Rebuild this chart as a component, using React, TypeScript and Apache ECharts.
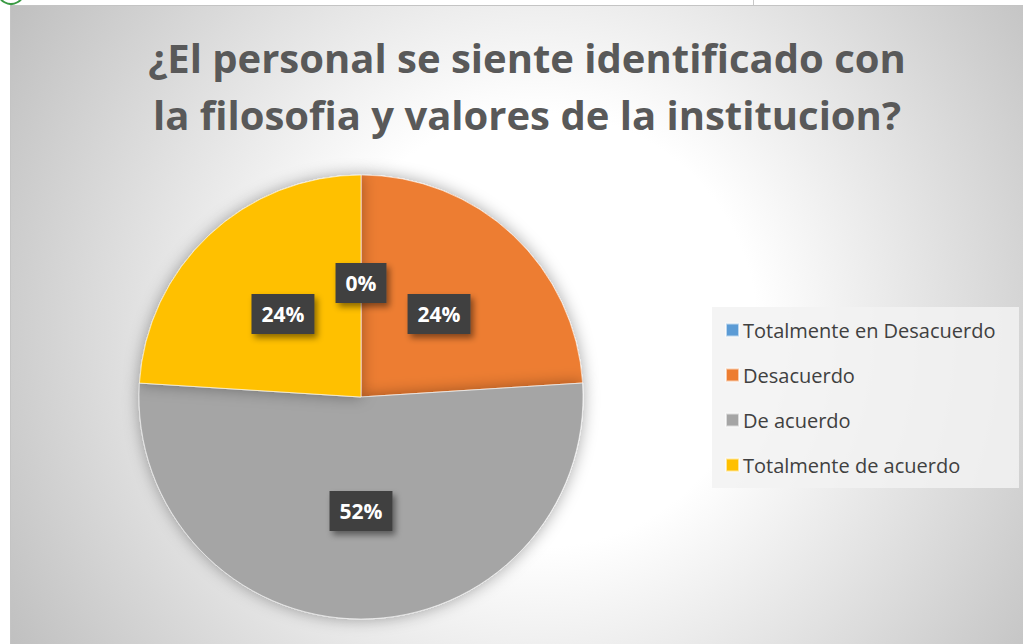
import React, { useEffect, useRef } from "react";
import * as echarts from "echarts";

const titleLines = [
  "¿El personal se siente identificado con",
  "la filosofia y valores de la institucion?",
];
const categories = [
  "Totalmente en Desacuerdo",
  "Desacuerdo",
  "De acuerdo",
  "Totalmente de acuerdo",
];
const percentValues = [0, 24, 52, 24];
const sliceColors = ["#5b9bd5", "#ed7d31", "#a5a5a5", "#ffc000"];

export default function App() {
  const ref = useRef<HTMLDivElement>(null);
  useEffect(() => {
    if (!ref.current) return;
    const chart = echarts.init(ref.current, null, { renderer: "svg" });
    const bg = new echarts.graphic.RadialGradient(
      540,
      330,
      620,
      [
        { offset: 0, color: "#ffffff" },
        { offset: 0.35, color: "#ffffff" },
        { offset: 1, color: "#bfbfbf" },
      ],
      true
    );
    chart.setOption({
      animation: false,
      backgroundColor: "#ffffff",
      graphic: [
        {
          type: "rect",
          z: -10,
          shape: { x: 10.5, y: 5.5, width: 1020, height: 645 },
          style: { fill: bg, stroke: "#c4c4c4", lineWidth: 1 },
        },
        {
          type: "circle",
          z: -5,
          shape: { cx: 11, cy: -9, r: 13 },
          style: { fill: "#ffffff", stroke: "#3a9a44", lineWidth: 2 },
        },
        {
          type: "line",
          z: -5,
          shape: { x1: 753.5, y1: 0, x2: 753.5, y2: 5 },
          style: { stroke: "#c8c8c8", lineWidth: 1 },
        },
        {
          type: "rect",
          z: -4,
          shape: { x: 712, y: 307, width: 307, height: 181 },
          style: { fill: "rgba(242,242,242,0.85)" },
        },
      ],
      title: {
        text: titleLines.join("\n"),
        left: 522,
        top: 24,
        textAlign: "center",
        textStyle: {
          fontFamily: "Open Sans",
          fontWeight: "bold",
          fontSize: 40,
          lineHeight: 57,
          color: "#595959",
        },
      },
      legend: {
        orient: "vertical",
        left: 712,
        top: 307,
        padding: [13, 10, 11, 13],
        itemWidth: 13,
        itemHeight: 13,
        itemGap: 25,
        icon: "rect",
        data: categories,
        textStyle: {
          fontFamily: "Open Sans",
          fontSize: 20,
          lineHeight: 20,
          color: "#404040",
          padding: [0, 0, 0, -1],
        },
      },
      series: [
        {
          type: "pie",
          center: [361, 397],
          radius: 222,
          startAngle: 90,
          clockwise: true,
          avoidLabelOverlap: false,
          data: categories.map((name, i) => ({
            name,
            value: percentValues[i],
            itemStyle: { color: sliceColors[i] },
          })),
          itemStyle: {
            borderColor: "rgba(255,255,255,0.6)",
            borderWidth: 1,
            shadowBlur: 16,
            shadowColor: "rgba(0,0,0,0.35)",
          },
          label: {
            show: true,
            position: "inside",
            formatter: "{d}%",
            fontFamily: "Open Sans",
            fontWeight: "bold",
            fontSize: 21,
            lineHeight: 26,
            color: "#ffffff",
            backgroundColor: "#404040",
            padding: [7, 10, 7, 10],
            shadowBlur: 6,
            shadowOffsetX: 3,
            shadowOffsetY: 4,
            shadowColor: "rgba(0,0,0,0.45)",
          },
          labelLine: { show: false },
          emphasis: { disabled: true },
        },
      ],
    });
    return () => chart.dispose();
  }, []);
  return (
    <div
      ref={ref}
      style={{ position: "absolute", left: 0, top: 0, width: 1023, height: 644 }}
    />
  );
}
